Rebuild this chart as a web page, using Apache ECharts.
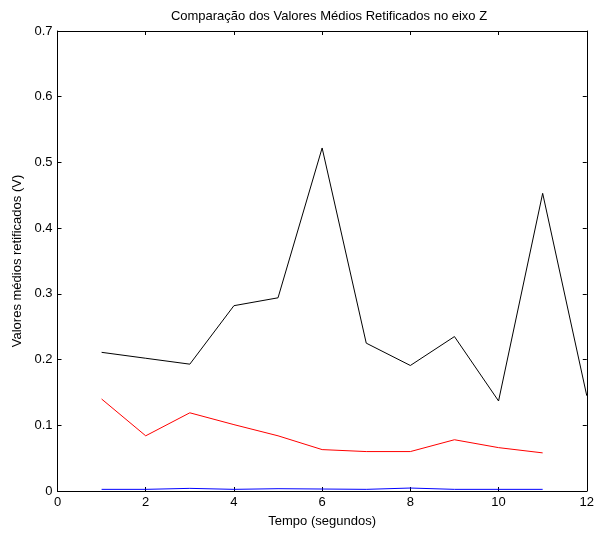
<!DOCTYPE html>
<html><head><meta charset="utf-8">
<script src="https://cdn.jsdelivr.net/npm/echarts@6/dist/echarts.min.js"></script>
<style>html,body{margin:0;padding:0;background:#fff}#c{width:597px;height:534px}</style>
</head><body><div id="c"></div>
<script>
const tempo = [1,2,3,4,5,6,7,8,9,10,11,12];
const serieA = [0.211,0.202,0.193,0.282,0.294,0.522,0.225,0.191,0.235,0.137,0.453,0.145];
const serieB = [0.140,0.084,0.119,0.101,0.084,0.063,0.060,0.060,0.078,0.066,0.058];
const serieC = [0.0025,0.0025,0.004,0.0025,0.0035,0.003,0.0025,0.0045,0.0025,0.0025,0.0025];
const titulo = 'Comparação dos Valores Médios Retificados no eixo Z';
const eixoX = 'Tempo (segundos)';
const eixoY = 'Valores médios retificados (V)';

const pts = (vals) => vals.map((v,i)=>[tempo[i], v]);
const font = 'Liberation Sans';
const axisCommon = {
  axisLine:{show:true, onZero:false, lineStyle:{color:'#000', width:1}},
  axisTick:{show:true, inside:true, length:4, lineStyle:{color:'#000'}},
  splitLine:{show:false}
};
const chart = echarts.init(document.getElementById('c'), null, {renderer:'canvas'});
chart.setOption({
  animation:false,
  backgroundColor:'#fff',
  title:{text:titulo, left:324, top:5, textAlign:'center',
    textStyle:{fontFamily:font, fontSize:13, fontWeight:'normal', color:'#000'}},
  grid:{left:57.5, top:31, right:7, bottom:43, containLabel:false},
  xAxis:[
    Object.assign({type:'value', min:0, max:12, interval:2, position:'bottom',
      name:eixoX, nameLocation:'middle', nameGap:24,
      nameTextStyle:{fontFamily:font, fontSize:13, color:'#000'},
      axisLabel:{fontFamily:font, fontSize:13, color:'#000', margin:5}}, axisCommon),
    Object.assign({type:'value', min:0, max:12, interval:2, position:'top',
      axisLabel:{show:false}}, axisCommon)
  ],
  yAxis:[
    Object.assign({type:'value', min:0, max:0.7, interval:0.1, position:'left',
      name:eixoY, nameLocation:'middle', nameGap:33,
      nameTextStyle:{fontFamily:font, fontSize:13, color:'#000'},
      axisLabel:{fontFamily:font, fontSize:13, color:'#000', margin:5,
        formatter:(v)=>String(Math.round(v*10)/10)}}, axisCommon),
    Object.assign({type:'value', min:0, max:0.7, interval:0.1, position:'right',
      axisLabel:{show:false}}, axisCommon)
  ],
  series:[
    {type:'line', data:pts(serieA), showSymbol:false, lineStyle:{color:'#000', width:1}, itemStyle:{color:'#000'}},
    {type:'line', data:pts(serieB), showSymbol:false, lineStyle:{color:'#ff0000', width:1}, itemStyle:{color:'#ff0000'}},
    {type:'line', data:pts(serieC), showSymbol:false, lineStyle:{color:'#0000ff', width:1}, itemStyle:{color:'#0000ff'}}
  ]
});
</script></body></html>
